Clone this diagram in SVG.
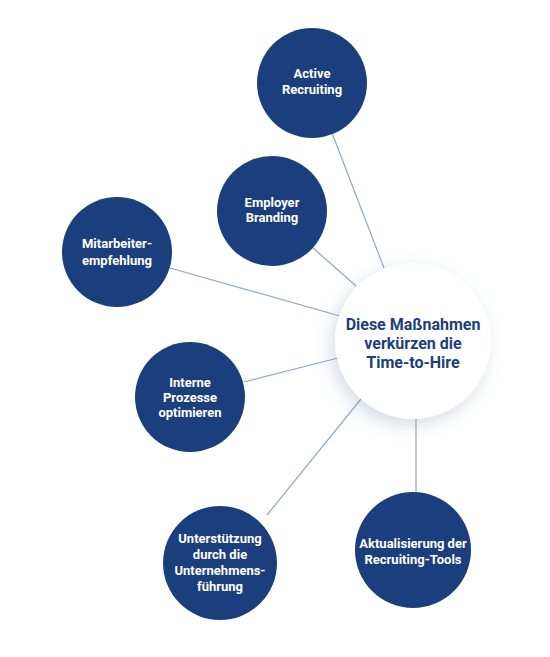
<svg xmlns="http://www.w3.org/2000/svg" width="550" height="657" viewBox="0 0 550 657">
<style>
.node{fill:#1b3f7c}
.lbl{font-family:Roboto,"Liberation Sans",sans-serif;font-weight:700;font-size:13px;fill:#ffffff;text-anchor:middle}
.ctr{font-family:Roboto,"Liberation Sans",sans-serif;font-weight:700;font-size:16px;fill:#1b3f7c;text-anchor:middle}
.conn line{stroke:#8fa9c3;stroke-width:1.2}
</style>
<defs>
<filter id="sh" x="-50%" y="-50%" width="200%" height="200%">
<feGaussianBlur in="SourceAlpha" stdDeviation="9"/>
<feOffset dx="-4" dy="6" result="b"/>
<feComponentTransfer><feFuncA type="linear" slope="0.28"/></feComponentTransfer>
<feFlood flood-color="#5a7590"/>
<feComposite operator="in" in2="b" result="c"/>
<feComponentTransfer in="b" result="d"><feFuncA type="linear" slope="0.3"/></feComponentTransfer>
<feFlood flood-color="#6f8aa3"/>
<feComposite operator="in" in2="d"/>
<feMerge><feMergeNode/><feMergeNode in="SourceGraphic"/></feMerge>
</filter>
</defs>
<rect width="550" height="657" fill="#ffffff"/>
<g class="conn" id="connectors">
<line x1="332" y1="133" x2="384" y2="268"/>
<line x1="312" y1="247" x2="356" y2="286"/>
<line x1="170" y1="268" x2="340" y2="316"/>
<line x1="244" y1="382" x2="338" y2="358"/>
<line x1="267" y1="515" x2="361" y2="399"/>
<line x1="416" y1="418" x2="416" y2="492"/>
</g>
<g id="center">
<circle cx="413" cy="341" r="78" fill="#ffffff" filter="url(#sh)"/>
<text class="ctr" x="413" y="330">Diese Maßnahmen</text>
<text class="ctr" x="413" y="349">verkürzen die</text>
<text class="ctr" x="413" y="368">Time-to-Hire</text>
</g>
<g id="active-recruiting">
<circle class="node" cx="312" cy="83" r="55"/>
<text class="lbl" x="312" y="78">Active</text>
<text class="lbl" x="312" y="94">Recruiting</text>
</g>
<g id="employer-branding">
<circle class="node" cx="272" cy="211" r="55"/>
<text class="lbl" x="272" y="207">Employer</text>
<text class="lbl" x="272" y="222">Branding</text>
</g>
<g id="mitarbeiterempfehlung">
<circle class="node" cx="117" cy="252" r="55"/>
<text class="lbl" x="117" y="248">Mitarbeiter-</text>
<text class="lbl" x="117" y="265">empfehlung</text>
</g>
<g id="interne-prozesse">
<circle class="node" cx="190" cy="397" r="55"/>
<text class="lbl" x="190" y="387">Interne</text>
<text class="lbl" x="190" y="402">Prozesse</text>
<text class="lbl" x="190" y="417">optimieren</text>
</g>
<g id="unterstuetzung">
<circle class="node" cx="220" cy="563" r="57"/>
<text class="lbl" x="220" y="543">Unterstützung</text>
<text class="lbl" x="220" y="559">durch die</text>
<text class="lbl" x="220" y="575">Unternehmens-</text>
<text class="lbl" x="220" y="591">führung</text>
</g>
<g id="aktualisierung">
<circle class="node" cx="413" cy="550" r="58"/>
<text class="lbl" x="413" y="548">Aktualisierung der</text>
<text class="lbl" x="413" y="564">Recruiting-Tools</text>
</g>
</svg>
